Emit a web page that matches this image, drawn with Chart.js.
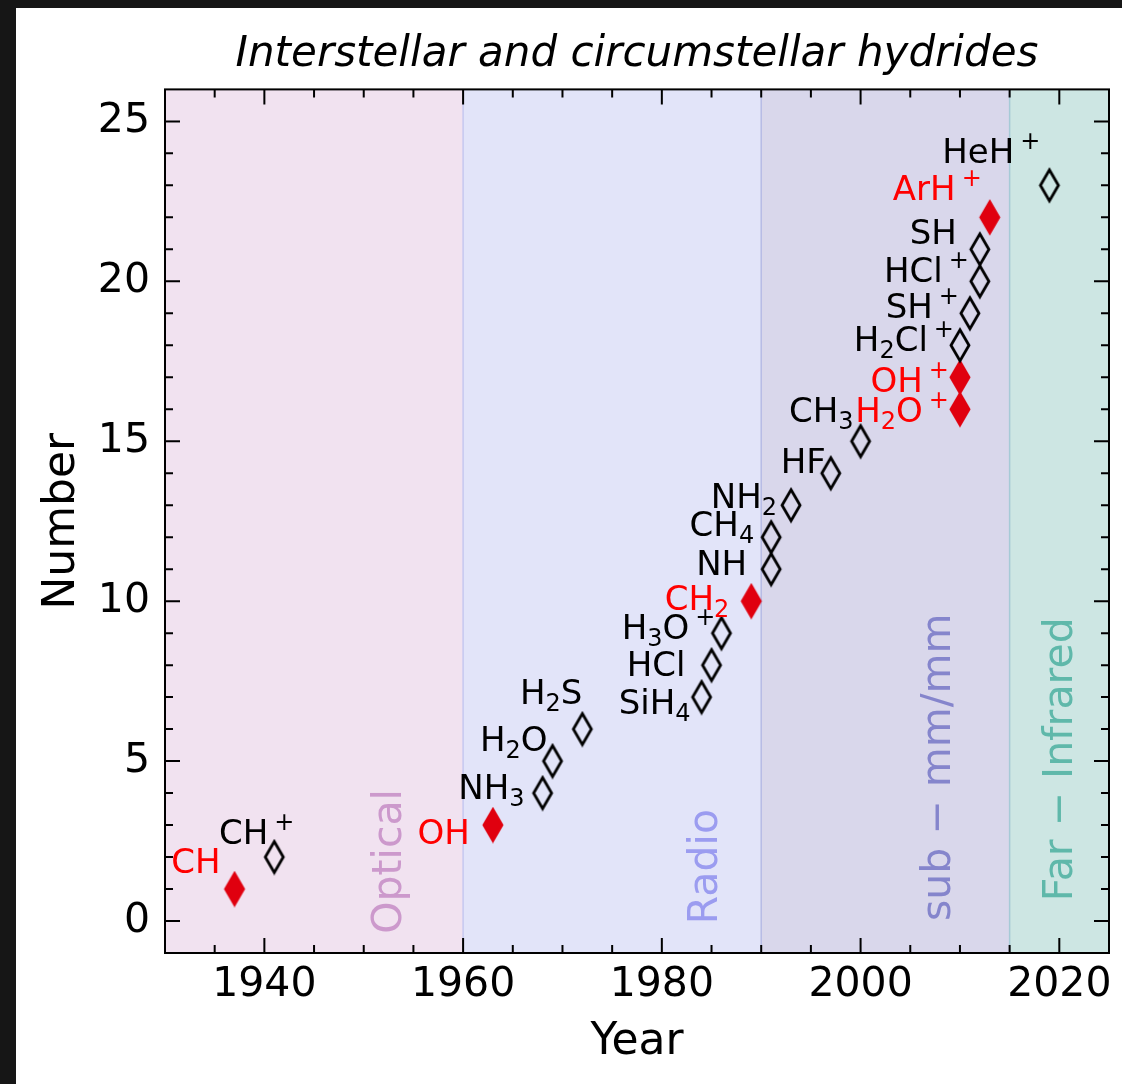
<!DOCTYPE html>
<html>
<head>
<meta charset="utf-8">
<script src="https://cdn.jsdelivr.net/npm/chart.js@4.4.0/dist/chart.umd.min.js"></script>
<style>
  html, body { margin: 0; padding: 0; background: #161616; }
  #paper { position: absolute; left: 16px; top: 8px; right: 0; bottom: 0; background: #fff; }
  #chart { position: absolute; left: 0; top: 0; }
</style>
</head>
<body>
<div id="paper"></div>
<canvas id="chart" width="1122" height="1084"></canvas>
<script>
// detection year and running count of each hydride
const years  = [1937, 1941, 1963, 1968, 1969, 1972, 1984, 1985, 1986, 1989, 1991, 1991,
                1993, 1997, 2000, 2010, 2010, 2010, 2011, 2012, 2012, 2013, 2019];
const counts = [1, 2, 3, 4, 5, 6, 7, 8, 9, 10, 11, 12,
                13, 14, 15, 16, 17, 18, 19, 20, 21, 22, 23];
// _x = subscript, ^x = superscript
const species = ['CH', 'CH^+', 'OH', 'NH_3', 'H_2O', 'H_2S', 'SiH_4', 'HCl', 'H_3O^+', 'CH_2', 'NH', 'CH_4',
                 'NH_2', 'HF', 'CH_3', 'H_2O^+', 'OH^+', 'H_2Cl^+', 'SH^+', 'HCl^+', 'SH', 'ArH^+', 'HeH^+'];
const isRed  = [true, false, true, false, false, false, false, false, false, true, false, false,
                false, false, false, true, true, false, false, false, false, true, false];

const bandNames = ['Optical', 'Radio', 'sub \u2212 mm/mm', 'Far \u2212 Infrared'];
const bandStart = [1930, 1960, 1990, 2015];
const bandEnd   = [1960, 1990, 2015, 2025];

const xTicks = [1940, 1960, 1980, 2000, 2020];
const yTicks = [0, 5, 10, 15, 20, 25];

// styling
const FONT = "'DejaVu Sans', sans-serif";
const RED_MARK = '#e0000f';
const RED_TEXT = '#ff0000';
const bandFill = ['#f1e2f0', '#e2e4f9', '#d9d7eb', '#cde6e3'];
const bandEdge = [null, '#c6c8f0', '#b6bbe4', '#a6cad6'];
const bandText = ['#cc99cc', '#9b9cf0', '#8585cc', '#5fb8aa'];
const bandLabelAt = [[1953.8, -0.4], [1985.6, -0.1], [2009.0, 0.0], [2021.3, 0.62]];
// label nudges in px: [right edge vs marker, text centre vs marker]
const labelNudge = [[-14, -28], [20, -25], [-23, 7], [-18, -6], [-5, -22], [0, -38], [-11, 4], [-26, -2],
                    [-6, -7], [-22, -4], [-24, -7], [-17, -14], [-14, -10], [-5, -13], [-7, -32],
                    [-11, 0], [-11, 2], [-6, -7], [-11, -8], [-11, -12], [-23, -18], [-8, -30], [-9, -35]];

function diamond(fill, stroke, hw, hh) {
  const c = document.createElement('canvas');
  c.width = Math.ceil(hw * 2 + 6);
  c.height = Math.ceil(hh * 2 + 6);
  const g = c.getContext('2d');
  const cx = c.width / 2, cy = c.height / 2;
  g.beginPath();
  g.moveTo(cx, cy - hh);
  g.lineTo(cx + hw, cy);
  g.lineTo(cx, cy + hh);
  g.lineTo(cx - hw, cy);
  g.closePath();
  if (fill) { g.fillStyle = fill; g.fill(); }
  g.lineJoin = 'miter';
  g.lineWidth = 2.8;
  g.strokeStyle = stroke;
  g.stroke();
  return c;
}
const openMark = diamond(null, '#000', 9, 15.5);
const redMark = diamond(RED_MARK, RED_MARK, 9, 15.5);

function parseFormula(s) {
  const parts = [];
  for (let i = 0; i < s.length; i++) {
    const ch = s[i];
    if ((ch === '_' || ch === '^') && i + 1 < s.length) {
      parts.push({ t: s[i + 1], k: ch === '_' ? 'sub' : 'sup' });
      i++;
    } else if (parts.length && parts[parts.length - 1].k === 'n') {
      parts[parts.length - 1].t += ch;
    } else {
      parts.push({ t: ch, k: 'n' });
    }
  }
  return parts;
}

const decor = {
  id: 'decor',
  beforeDatasetsDraw(chart) {
    const { ctx, chartArea: a, scales: { x, y } } = chart;
    ctx.save();
    bandStart.forEach((b, i) => {
      const x0 = x.getPixelForValue(b), x1 = x.getPixelForValue(bandEnd[i]);
      ctx.fillStyle = bandFill[i];
      ctx.fillRect(x0, a.top, x1 - x0, a.bottom - a.top);
      if (bandEdge[i]) {
        ctx.strokeStyle = bandEdge[i];
        ctx.lineWidth = 1.5;
        ctx.beginPath();
        ctx.moveTo(x0, a.top);
        ctx.lineTo(x0, a.bottom);
        ctx.stroke();
      }
    });
    bandNames.forEach((t, i) => {
      ctx.save();
      ctx.translate(x.getPixelForValue(bandLabelAt[i][0]), y.getPixelForValue(bandLabelAt[i][1]));
      ctx.rotate(-Math.PI / 2);
      ctx.font = '41px ' + FONT;
      ctx.fillStyle = bandText[i];
      ctx.textAlign = 'left';
      ctx.textBaseline = 'alphabetic';
      ctx.fillText(t, 0, 0);
      ctx.restore();
    });
    ctx.restore();
  },
  afterDatasetsDraw(chart) {
    const { ctx, scales: { x, y } } = chart;
    const big = '34px ' + FONT, small = '24px ' + FONT;
    ctx.save();
    ctx.textAlign = 'left';
    ctx.textBaseline = 'alphabetic';
    species.forEach((name, i) => {
      const parts = parseFormula(name);
      let total = 0;
      parts.forEach(p => {
        ctx.font = p.k === 'n' ? big : small;
        p.w = ctx.measureText(p.t).width;
        p.gap = p.k === 'sup' ? 6 : 0;
        total += p.w + p.gap;
      });
      const px = x.getPixelForValue(years[i]), py = y.getPixelForValue(counts[i]);
      let cx = px + labelNudge[i][0] - total;
      const base = py + labelNudge[i][1] + 12.4;
      ctx.fillStyle = isRed[i] ? RED_TEXT : '#000';
      parts.forEach(p => {
        ctx.font = p.k === 'n' ? big : small;
        cx += p.gap;
        const by = p.k === 'sub' ? base + 7 : p.k === 'sup' ? base - 14 : base;
        ctx.fillText(p.t, cx, by);
        cx += p.w;
      });
    });
    ctx.restore();
  },
  afterDraw(chart) {
    const { ctx, chartArea: a, scales: { x, y } } = chart;
    ctx.save();
    ctx.strokeStyle = '#000';
    ctx.lineWidth = 2;
    ctx.strokeRect(a.left, a.top, a.right - a.left, a.bottom - a.top);
    ctx.beginPath();
    for (let v = 1935; v < 2025; v += 5) {
      const p = x.getPixelForValue(v);
      const len = xTicks.includes(v) ? 15 : 8;
      ctx.moveTo(p, a.bottom); ctx.lineTo(p, a.bottom - len);
      ctx.moveTo(p, a.top); ctx.lineTo(p, a.top + len);
    }
    for (let v = 0; v < 26; v++) {
      const p = y.getPixelForValue(v);
      const len = yTicks.includes(v) ? 15 : 8;
      ctx.moveTo(a.left, p); ctx.lineTo(a.left + len, p);
      ctx.moveTo(a.right, p); ctx.lineTo(a.right - len, p);
    }
    ctx.stroke();
    ctx.restore();
  }
};

const points = years.map((yr, i) => ({ x: yr, y: counts[i] }));

new Chart(document.getElementById('chart').getContext('2d'), {
  type: 'scatter',
  data: {
    datasets: [
      {
        label: 'open',
        data: points.filter((_, i) => !isRed[i]),
        pointStyle: openMark,
        pointRadius: 10,
        borderColor: '#000'
      },
      {
        label: 'red',
        data: points.filter((_, i) => isRed[i]),
        pointStyle: redMark,
        pointRadius: 10,
        borderColor: RED_MARK,
        backgroundColor: RED_MARK
      }
    ]
  },
  options: {
    responsive: false,
    animation: false,
    events: [],
    layout: { padding: { top: 8, right: 13, left: 0, bottom: 0 } },
    plugins: {
      legend: { display: false },
      tooltip: { enabled: false },
      title: {
        display: true,
        fullSize: false,
        text: 'Interstellar and circumstellar hydrides',
        color: '#000',
        font: { family: FONT, size: 42, style: 'italic', weight: 'normal' },
        padding: { top: 22, bottom: 9 }
      }
    },
    scales: {
      x: {
        type: 'linear',
        min: 1930,
        max: 2025,
        grid: { display: false, drawTicks: false },
        border: { display: false },
        afterBuildTicks: s => { s.ticks = xTicks.map(v => ({ value: v })); },
        afterFit: s => { s.height = 131; },
        ticks: { color: '#000', font: { family: FONT, size: 41 }, padding: 8, maxRotation: 0, autoSkip: false,
                 callback: v => String(v) },
        title: { display: true, text: 'Year', color: '#000', font: { family: FONT, size: 44 }, padding: { top: 0, bottom: 15 } }
      },
      y: {
        type: 'linear',
        min: -1,
        max: 26,
        grid: { display: false, drawTicks: false },
        border: { display: false },
        afterBuildTicks: s => { s.ticks = yTicks.map(v => ({ value: v })); },
        afterFit: s => { s.width = 165; },
        ticks: { color: '#000', font: { family: FONT, size: 41 }, padding: 15, autoSkip: false,
                 callback: v => String(v) },
        title: { display: true, text: 'Number', color: '#000', font: { family: FONT, size: 44 }, padding: { top: 36, bottom: 0 } }
      }
    }
  },
  plugins: [decor]
});
</script>
</body>
</html>
